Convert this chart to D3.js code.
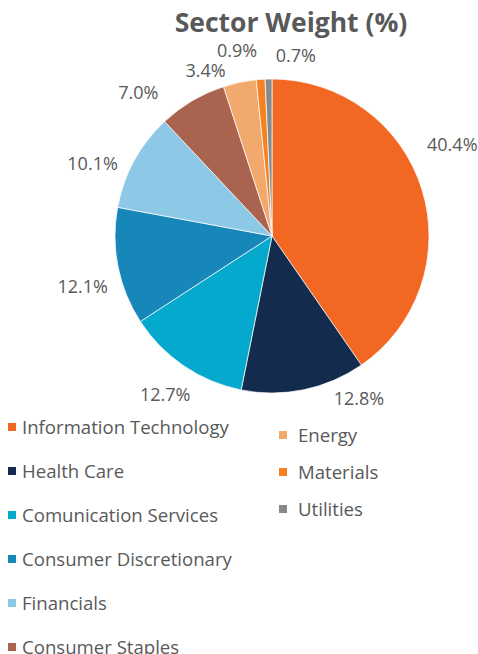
<!DOCTYPE html>
<meta charset="utf-8">
<style>
  body { margin: 0; background: #fff; }
  text { font-family: "Open Sans", sans-serif; fill: #595959; }
</style>
<body>
<script src="https://d3js.org/d3.v7.min.js"></script>
<script>

// Sector weights, clockwise from 12 o'clock
var sectors = ["Information Technology", "Health Care", "Comunication Services",
               "Consumer Discretionary", "Financials", "Consumer Staples",
               "Energy", "Materials", "Utilities"];
var weights = [40.4, 12.8, 12.7, 12.1, 10.1, 7.0, 3.4, 0.9, 0.7];
var colors = ["#f26722", "#132b4d", "#06a9ce", "#1786b9", "#8dc8e7",
              "#a9634e", "#f2a96e", "#f58220", "#868a8d"];

// label nudges (px) so labels sit like the original "best fit" placement
var labelNudge = [[-3, -34], [48, -25], [1, 0], [-1, 13], [-11, 20],
                  [-36, 22], [-27, 23], [-21, 6], [28, 12]];

var width = 478, height = 654;
var cx = 272, cy = 236, radius = 157;

var svg = d3.select("body").append("svg")
    .attr("width", width)
    .attr("height", height);

svg.append("text")
    .attr("x", 291)
    .attr("y", 32)
    .attr("text-anchor", "middle")
    .style("font-size", "26.5px")
    .style("font-weight", "bold")
    .text("Sector Weight (%)");

var data = sectors.map(function(s, i) { return {name: s, value: weights[i], color: colors[i], i: i}; });

var pie = d3.pie()
    .sort(null)
    .value(function(d) { return d.value; });

var arc = d3.arc().innerRadius(0).outerRadius(radius);
var labelArc = d3.arc().innerRadius(192).outerRadius(192);

var g = svg.append("g")
    .attr("transform", "translate(" + cx + "," + cy + ")");

var slices = pie(data);

g.selectAll("path")
    .data(slices)
  .enter().append("path")
    .attr("d", arc)
    .attr("fill", function(d) { return d.data.color; })
    .attr("stroke", "#fff")
    .attr("stroke-width", 0.7);

g.selectAll(".lbl")
    .data(slices)
  .enter().append("text")
    .attr("class", "lbl")
    .attr("transform", function(d) {
      var c = labelArc.centroid(d);
      var n = labelNudge[d.data.i];
      return "translate(" + (c[0] + n[0]) + "," + (c[1] + n[1]) + ")";
    })
    .attr("text-anchor", "middle")
    .attr("dy", "0.35em")
    .style("font-size", "18px")
    .text(function(d) { return d.data.value.toFixed(1) + "%"; });

// legend: first six in left column, rest in right
var leftRows = d3.scaleLinear().domain([0, 5]).range([427, 647]);
var rightRows = d3.scaleLinear().domain([0, 2]).range([435, 509]);

var legend = svg.selectAll(".leg")
    .data(data)
  .enter().append("g")
    .attr("class", "leg")
    .attr("transform", function(d) {
      if (d.i < 6) return "translate(8," + leftRows(d.i) + ")";
      return "translate(279," + rightRows(d.i - 6) + ")";
    });

legend.append("rect")
    .attr("x", 0)
    .attr("y", -4)
    .attr("width", 8)
    .attr("height", 8)
    .attr("fill", function(d) { return d.color; });

legend.append("text")
    .attr("x", function(d) { return d.i < 6 ? 14 : 19; })
    .attr("dy", "0.35em")
    .style("font-size", "18.6px")
    .text(function(d) { return d.name; });

</script>
</body>
